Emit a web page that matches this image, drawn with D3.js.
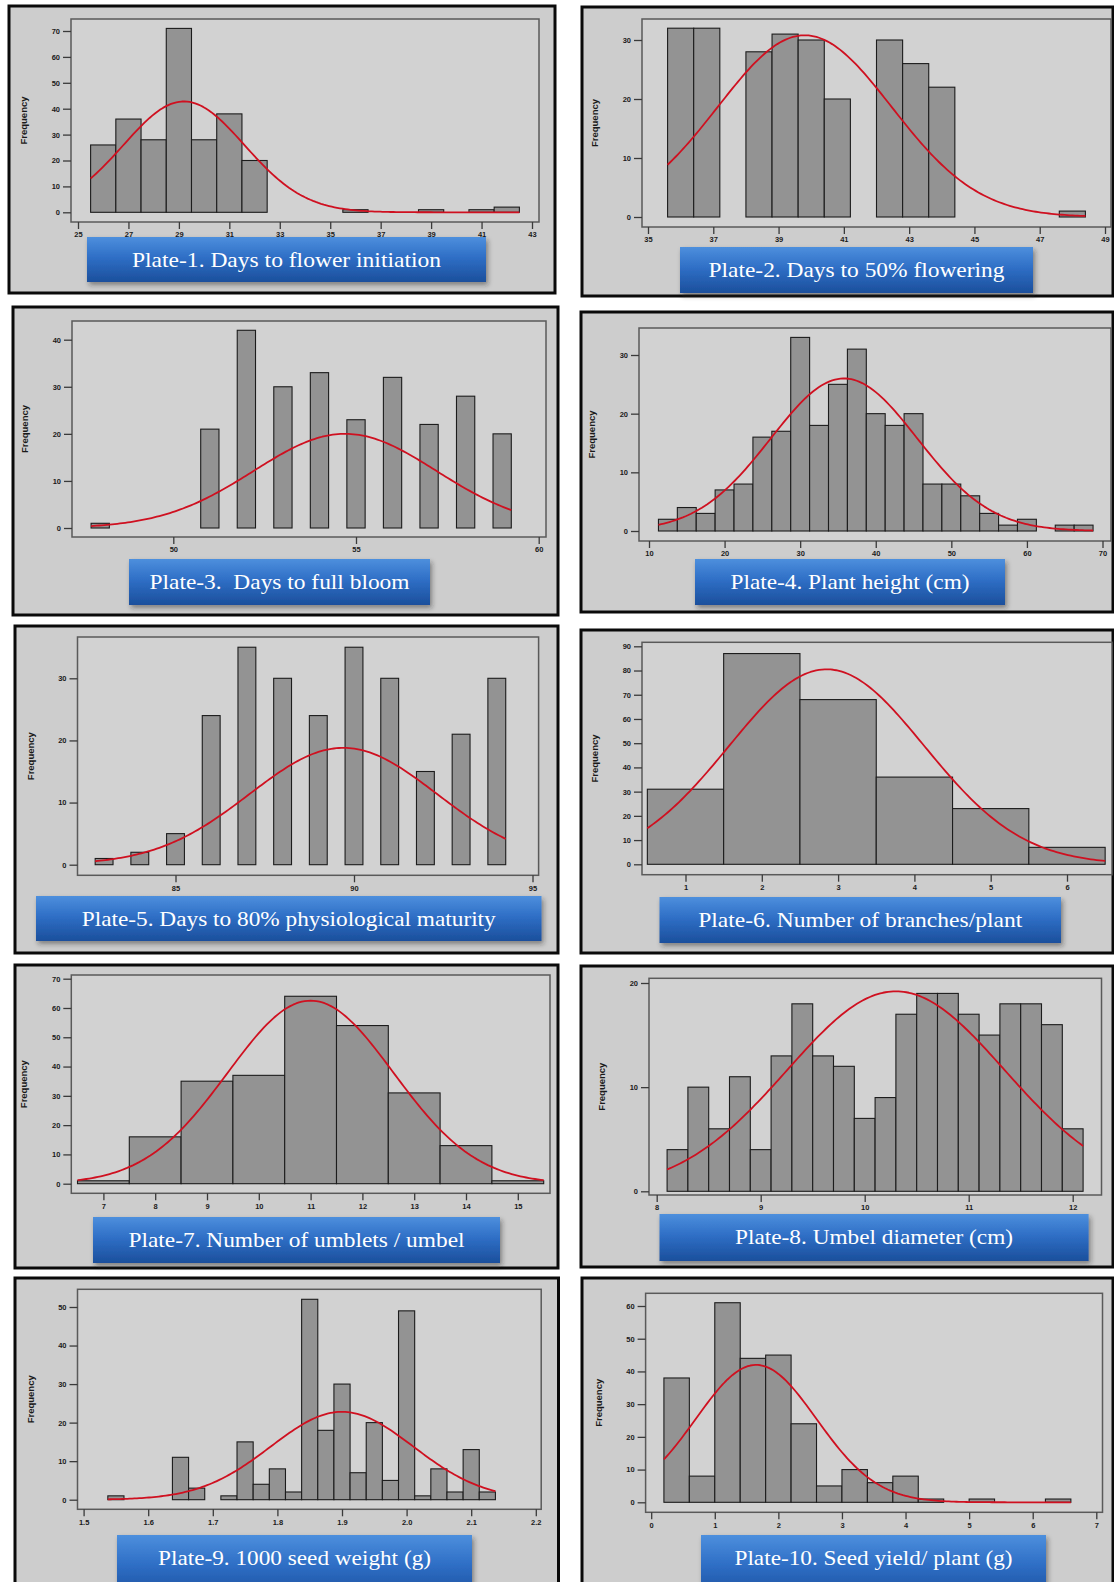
<!DOCTYPE html>
<html>
<head>
<meta charset="utf-8">
<script src="https://cdn.jsdelivr.net/npm/d3@7"></script>
<style>
  body { margin: 0; background: #fff; }
  svg { display: block; }
</style>
</head>
<body>
<div id="chart"></div>
<script>
// ---- data (bin centres and frequencies) ----
const p1Bins = [26, 27, 28, 29, 30, 31, 32, 33, 34, 35, 36, 37, 38, 39, 40, 41, 42];
const p1Counts = [26, 36, 28, 71, 28, 38, 20, 0, 0, 0, 1, 0, 0, 1, 0, 1, 2];

const p2Bins = [36, 36.8, 37.6, 38.4, 39.2, 40, 40.8, 41.6, 42.4, 43.2, 44, 44.8, 45.6, 46.4, 47.2, 48];
const p2Counts = [32, 32, 0, 28, 31, 30, 20, 0, 30, 26, 22, 0, 0, 0, 0, 1];

const p3Bins = [48, 51, 52, 53, 54, 55, 56, 57, 58, 59];
const p3Counts = [1, 21, 42, 30, 33, 23, 32, 22, 28, 20];

const p4Bins = [12.5, 15, 17.5, 20, 22.5, 25, 27.5, 30, 32.5, 35, 37.5, 40, 42.5, 45, 47.5, 50, 52.5, 55, 57.5, 60, 62.5, 65, 67.5];
const p4Counts = [2, 4, 3, 7, 8, 16, 17, 33, 18, 25, 31, 20, 18, 20, 8, 8, 6, 3, 1, 2, 0, 1, 1];

const p5Bins = [83, 84, 85, 86, 87, 88, 89, 90, 91, 92, 93, 94];
const p5Counts = [1, 2, 5, 24, 35, 30, 24, 35, 30, 15, 21, 30];

const p6Bins = [1, 2, 3, 4, 5, 6];
const p6Counts = [31, 87, 68, 36, 23, 7];

const p7Bins = [7, 8, 9, 10, 11, 12, 13, 14, 15];
const p7Counts = [1, 16, 35, 37, 64, 54, 31, 13, 1];

const p8Bins = [8.2, 8.4, 8.6, 8.8, 9.0, 9.2, 9.4, 9.6, 9.8, 10.0, 10.2, 10.4, 10.6, 10.8, 11.0, 11.2, 11.4, 11.6, 11.8, 12.0];
const p8Counts = [4, 10, 6, 11, 4, 13, 18, 13, 12, 7, 9, 17, 19, 19, 17, 15, 18, 18, 16, 6];

const p9Bins = [1.55, 1.575, 1.6, 1.625, 1.65, 1.675, 1.7, 1.725, 1.75, 1.775, 1.8, 1.825, 1.85, 1.875, 1.9, 1.925, 1.95, 1.975, 2.0, 2.025, 2.05, 2.075, 2.1, 2.125];
const p9Counts = [1, 0, 0, 0, 11, 3, 0, 1, 15, 4, 8, 2, 52, 18, 30, 7, 20, 5, 49, 1, 8, 2, 13, 2];

const p10Bins = [0.4, 0.8, 1.2, 1.6, 2.0, 2.4, 2.8, 3.2, 3.6, 4.0, 4.4, 4.8, 5.2, 5.6, 6.0, 6.4];
const p10Counts = [38, 8, 61, 44, 45, 24, 5, 10, 6, 8, 1, 0, 1, 0, 0, 1];

// bin width of each plate (data units)
const binWidths = [1, 0.8, 0.5, 2.5, 0.5, 1, 1, 0.2, 0.025, 0.4];

// fitted normal curve: mean, sd, peak height, start, end
const fitMeans = [29.2, 39.8, 54.7, 35.8, 89.7, 2.85, 11.0, 10.3, 1.9, 1.65];
const fitSds = [2.4, 2.66, 2.5, 9.7, 2.62, 1.28, 1.6, 1.045, 0.11, 0.95];
const fitPeaks = [42.8, 30.8, 20.0, 26.0, 18.8, 80.5, 62.5, 19.2, 22.8, 42.0];
const fitFrom = [25.5, 35.6, 47.75, 11.25, 82.75, 0.5, 6.5, 8.1, 1.5375, 0.2];
const fitTo = [42.5, 48.4, 59.25, 68.75, 94.25, 6.5, 15.5, 12.1, 2.1375, 6.6];

const xTicks = [
  [25, 27, 29, 31, 33, 35, 37, 39, 41, 43],
  [35, 37, 39, 41, 43, 45, 47, 49],
  [50, 55, 60],
  [10, 20, 30, 40, 50, 60, 70],
  [85, 90, 95],
  [1, 2, 3, 4, 5, 6],
  [7, 8, 9, 10, 11, 12, 13, 14, 15],
  [8, 9, 10, 11, 12],
  [1.5, 1.6, 1.7, 1.8, 1.9, 2.0, 2.1, 2.2],
  [0, 1, 2, 3, 4, 5, 6, 7]
];
const yTicks = [
  [0, 10, 20, 30, 40, 50, 60, 70],
  [0, 10, 20, 30],
  [0, 10, 20, 30, 40],
  [0, 10, 20, 30],
  [0, 10, 20, 30],
  [0, 10, 20, 30, 40, 50, 60, 70, 80, 90],
  [0, 10, 20, 30, 40, 50, 60, 70],
  [0, 10, 20],
  [0, 10, 20, 30, 40, 50],
  [0, 10, 20, 30, 40, 50, 60]
];

const plateTitles = [
  "Plate-1. Days to flower initiation",
  "Plate-2. Days to 50% flowering",
  "Plate-3.  Days to full bloom",
  "Plate-4. Plant height (cm)",
  "Plate-5. Days to 80% physiological maturity",
  "Plate-6. Number of branches/plant",
  "Plate-7. Number of umblets / umbel",
  "Plate-8. Umbel diameter (cm)",
  "Plate-9. 1000 seed weight (g)",
  "Plate-10. Seed yield/ plant (g)"
];

const allBins = [p1Bins, p2Bins, p3Bins, p4Bins, p5Bins, p6Bins, p7Bins, p8Bins, p9Bins, p10Bins];
const allCounts = [p1Counts, p2Counts, p3Counts, p4Counts, p5Counts, p6Counts, p7Counts, p8Counts, p9Counts, p10Counts];

// ---- layout (page pixels) ----
// box / frame / caption: [left, top, right, bottom]; xr, yr: two value->pixel anchors
const layout = [
  { box: [9, 6, 555, 293], frame: [71, 19, 539, 222], xr: [25, 78, 43, 532], yr: [0, 212.3, 70, 31], cap: [87, 237, 486, 282], tw: 309 },
  { box: [582, 7, 1113, 296], frame: [642, 19, 1111, 227], xr: [35, 648, 49, 1105], yr: [0, 217, 30, 40], cap: [680, 247, 1033, 293], tw: 296 },
  { box: [13, 307, 558, 615], frame: [72, 321, 546, 537], xr: [50, 173.3, 60, 538.7], yr: [0, 528, 40, 339.7], cap: [129, 559, 430, 605], tw: 260 },
  { box: [581, 312, 1113, 612], frame: [639, 328, 1111, 541], xr: [10, 649, 70, 1102.5], yr: [0, 531, 30, 355], cap: [695, 559, 1005, 605], tw: 239 },
  { box: [15, 626, 558, 953], frame: [77.5, 637, 538.6, 875.3], xr: [85, 175.5, 95, 532.5], yr: [0, 864.7, 30, 678.3], cap: [36, 896, 541.5, 941], tw: 414 },
  { box: [581, 630, 1113, 953], frame: [642, 642.3, 1112, 874.7], xr: [1, 685.5, 6, 1067], yr: [0, 864.3, 90, 646.3], cap: [659.5, 897, 1061, 943], tw: 324 },
  { box: [15, 965, 558, 1268], frame: [71.3, 975, 550, 1193.3], xr: [7, 103.4, 15, 517.8], yr: [0, 1183.7, 70, 978.7], cap: [93, 1217, 500, 1263], tw: 336 },
  { box: [581, 966, 1113, 1267], frame: [649, 978.3, 1101.5, 1195], xr: [8, 656.7, 12, 1072.7], yr: [0, 1191.3, 20, 983], cap: [659.5, 1214, 1088.6, 1261], tw: 278 },
  { box: [15, 1278, 558.5, 1595], frame: [77.5, 1289.3, 541.2, 1509.3], xr: [1.5, 83.6, 2.2, 535.8], yr: [0, 1499.7, 50, 1307], cap: [117, 1535, 472, 1600], tw: 273 },
  { box: [582, 1278, 1113, 1595], frame: [645.6, 1293.3, 1102.5, 1512.3], xr: [0, 651.2, 7, 1096.3], yr: [0, 1502.3, 60, 1306], cap: [701, 1535, 1046, 1600], tw: 278 }
];

const W = 1114, H = 1582;
const svg = d3.select("#chart").append("svg").attr("width", W).attr("height", H);

const defs = svg.append("defs");
const grad = defs.append("linearGradient").attr("id", "capGrad")
  .attr("x1", 0).attr("y1", 0).attr("x2", 0).attr("y2", 1);
grad.append("stop").attr("offset", "0%").attr("stop-color", "#4d8fdd");
grad.append("stop").attr("offset", "45%").attr("stop-color", "#2f6fc6");
grad.append("stop").attr("offset", "100%").attr("stop-color", "#1b4f9c");

const shadow = defs.append("filter").attr("id", "capShadow")
  .attr("x", "-5%").attr("y", "-10%").attr("width", "115%").attr("height", "140%");
shadow.append("feDropShadow").attr("dx", 2).attr("dy", 3).attr("stdDeviation", 2.5)
  .attr("flood-color", "#222").attr("flood-opacity", 0.45);

svg.append("rect").attr("width", W).attr("height", H).attr("fill", "#fff");

function normal(x, m, s, peak) {
  return peak * Math.exp(-((x - m) * (x - m)) / (2 * s * s));
}

function drawPlate(i) {
  const L = layout[i];
  const g = svg.append("g").attr("class", "plate-" + (i + 1));

  const xs = d3.scaleLinear().domain([L.xr[0], L.xr[2]]).range([L.xr[1], L.xr[3]]);
  const ys = d3.scaleLinear().domain([L.yr[0], L.yr[2]]).range([L.yr[1], L.yr[3]]);

  // outer panel
  g.append("rect")
    .attr("x", L.box[0]).attr("y", L.box[1])
    .attr("width", L.box[2] - L.box[0]).attr("height", L.box[3] - L.box[1])
    .attr("fill", "#cdcdcd")
    .attr("stroke", "#0a0a0a")
    .attr("stroke-width", 3);

  // plot frame
  g.append("rect")
    .attr("x", L.frame[0]).attr("y", L.frame[1])
    .attr("width", L.frame[2] - L.frame[0]).attr("height", L.frame[3] - L.frame[1])
    .attr("fill", "#d2d2d2")
    .attr("stroke", "#5a5a5a")
    .attr("stroke-width", 1.5);

  // bars
  const w = binWidths[i];
  const data = allBins[i].map((c, k) => ({ c: c, n: allCounts[i][k] })).filter((d) => d.n > 0);
  g.append("g").selectAll("rect")
    .data(data)
    .join("rect")
    .attr("x", (d) => xs(d.c - w / 2))
    .attr("width", (d) => xs(d.c + w / 2) - xs(d.c - w / 2))
    .attr("y", (d) => ys(d.n))
    .attr("height", (d) => ys(0) - ys(d.n))
    .attr("fill", "#939393")
    .attr("stroke", "#1c1c1c")
    .attr("stroke-width", 1.1);

  // fitted curve
  const pts = d3.range(0, 161).map((k) => {
    const x = fitFrom[i] + (fitTo[i] - fitFrom[i]) * k / 160;
    return [x, normal(x, fitMeans[i], fitSds[i], fitPeaks[i])];
  });
  const line = d3.line().x((d) => xs(d[0])).y((d) => ys(d[1]));
  g.append("path")
    .datum(pts)
    .attr("d", line)
    .attr("fill", "none")
    .attr("stroke", "#cf1020")
    .attr("stroke-width", 1.8)
    .attr("stroke-linejoin", "round");

  // y axis
  const ay = g.append("g")
    .attr("transform", "translate(" + L.frame[0] + ",0)")
    .call(d3.axisLeft(ys).tickValues(yTicks[i]).tickSize(8).tickPadding(3));
  // x axis
  const fmt = i === 8 ? d3.format(".1f") : d3.format("d");
  const ax = g.append("g")
    .attr("transform", "translate(0," + L.frame[3] + ")")
    .call(d3.axisBottom(xs).tickValues(xTicks[i]).tickFormat(fmt).tickSize(7).tickPadding(3));

  [ax, ay].forEach((a) => {
    a.select(".domain").remove();
    a.selectAll(".tick line").attr("stroke", "#3a3a3a").attr("stroke-width", 1.3);
    a.selectAll(".tick text")
      .attr("fill", "#1a1a1a")
      .style("font-family", "'Liberation Sans', Arial, sans-serif")
      .style("font-weight", "bold")
      .style("font-size", "7.5px");
  });

  // axis title
  const fy = (L.frame[1] + L.frame[3]) / 2;
  const fx = L.frame[0] - 44;
  g.append("text")
    .attr("transform", "translate(" + fx + "," + fy + ") rotate(-90)")
    .attr("text-anchor", "middle")
    .attr("fill", "#1a1a1a")
    .style("font-family", "'Liberation Sans', Arial, sans-serif")
    .style("font-weight", "bold")
    .style("font-size", "9.5px")
    .text("Frequency");

  // caption
  g.append("rect")
    .attr("x", L.cap[0]).attr("y", L.cap[1])
    .attr("width", L.cap[2] - L.cap[0]).attr("height", L.cap[3] - L.cap[1])
    .attr("fill", "url(#capGrad)")
    .attr("filter", "url(#capShadow)");
  g.append("text")
    .attr("x", (L.cap[0] + L.cap[2]) / 2)
    .attr("y", L.cap[1] + 30)
    .attr("text-anchor", "middle")
    .attr("fill", "#fff")
    .attr("textLength", L.tw)
    .attr("lengthAdjust", "spacingAndGlyphs")
    .style("font-family", "'Liberation Serif', 'Times New Roman', serif")
    .style("font-size", "21px")
    .style("white-space", "pre")
    .text(plateTitles[i]);
}

for (let i = 0; i < layout.length; i++) drawPlate(i);
</script>
</body>
</html>
